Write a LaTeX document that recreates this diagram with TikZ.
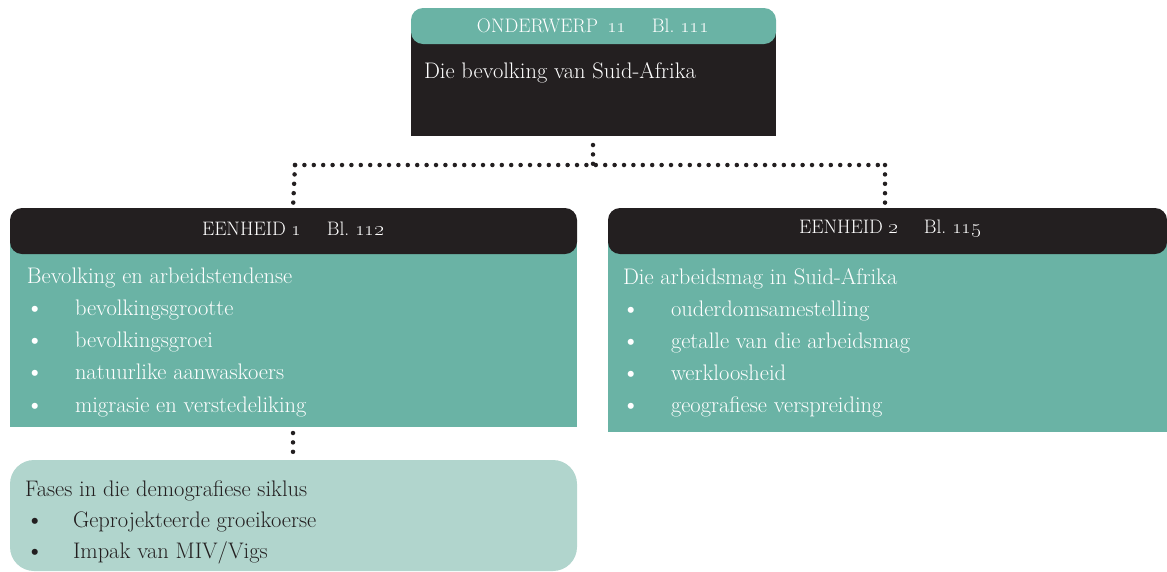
\documentclass[tikz,border=0pt]{standalone}
\usetikzlibrary{positioning}
\definecolor{teal1}{HTML}{6AB3A5}
\definecolor{dark1}{HTML}{231F20}
\definecolor{light1}{HTML}{B1D5CD}
\tikzset{
  every node/.style={inner sep=0pt, outer sep=0pt},
  hfont/.style={font=\fontsize{19.5}{22}\selectfont},
  txt/.style={anchor=base west, font=\fontsize{22.5}{25}\selectfont},
  bul/.style={anchor=base west, font=\fontsize{27}{25}\selectfont},
  dots/.style={line width=4.5pt, line cap=round, dash pattern=on 0pt off 9.4pt, dark1}
}
\newcommand{\osn}[1]{\oldstylenums{#1}}
\begin{document}
\begin{tikzpicture}[x=1pt,y=-1pt]
\useasboundingbox (0,0) rectangle (1167,571);
% top box
\fill[dark1] (411,28) rectangle (776,136);
\fill[teal1, rounded corners=12pt] (411,8) rectangle (776,44);
\node[anchor=center, text=white, hfont] (topH) at (593,26) {ONDERWERP\,\ \osn{11}\quad\ Bl.\ \osn{111}};
\node[txt, text=white] (topT) at (424,78) {Die bevolking van Suid-Afrika};
\coordinate (topB) at (593,136);
% left box
\fill[teal1] (10,230) rectangle (577,427);
\fill[dark1, rounded corners=12pt] (10,208) rectangle (577,254);
\node[anchor=center, text=white, hfont] (lH) at (293,229) {EENHEID \osn{1}\quad\ Bl.\ \osn{112}};
\coordinate (lT) at (293,208);
\coordinate (lB) at (293,427);
\node[txt, text=white] (l0) at (27,283) {Bevolking en arbeidstendense};
\foreach \t [count=\i] in {bevolkingsgrootte,bevolkingsgroei,natuurlike aanwaskoers,migrasie en verstedeliking}{
  \node[bul, text=white] (lb\i) at (25,284+\i*32.3) {\textbullet};
  \node[txt, text=white] (lt\i) at (75,283+\i*32.3) {\t};
}
% right box
\fill[teal1] (608,230) rectangle (1167,432);
\fill[dark1, rounded corners=12pt] (608,208) rectangle (1167,254);
\node[anchor=center, text=white, hfont] (rH) at (890,229) {EENHEID \osn{2}\quad\ Bl.\ \osn{115}};
\coordinate (rT) at (885,208);
\node[txt, text=white] (r0) at (623,284) {Die arbeidsmag in Suid-Afrika};
\foreach \t [count=\i] in {ouderdomsamestelling,getalle van die arbeidsmag,werkloosheid,geografiese verspreiding}{
  \node[bul, text=white] (rb\i) at (621,285+\i*32.2) {\textbullet};
  \node[txt, text=white] (rt\i) at (671,284+\i*32.2) {\t};
}
% bottom box
\fill[light1, rounded corners=24pt] (10,460) rectangle (577,571);
\coordinate (bT) at (293,460);
\node[txt, text=dark1] (b0) at (25,496) {Fases in die demografiese siklus};
\node[bul, text=dark1] (bb1) at (25,528) {\textbullet};
\node[txt, text=dark1] (bt1) at (73,527) {Geprojekteerde groeikoerse};
\node[bul, text=dark1] (bb2) at (25,559) {\textbullet};
\node[txt, text=dark1] (bt2) at (73,558) {Impak van MIV/Vigs};
% connectors
\coordinate (hm) at (593,165);
\coordinate (hl) at (295,165);
\coordinate (hr) at (885,165);
\draw[dots] (topB) ++(0,9) -- (hm);
\draw[dots] (hl) -- (hr);
\draw[dots] (hl) -- (lT);
\draw[dots] (hr) -- (rT);
\draw[dots] ([yshift=-6]lB) -- ([yshift=7]bT);
\end{tikzpicture}
\end{document}
